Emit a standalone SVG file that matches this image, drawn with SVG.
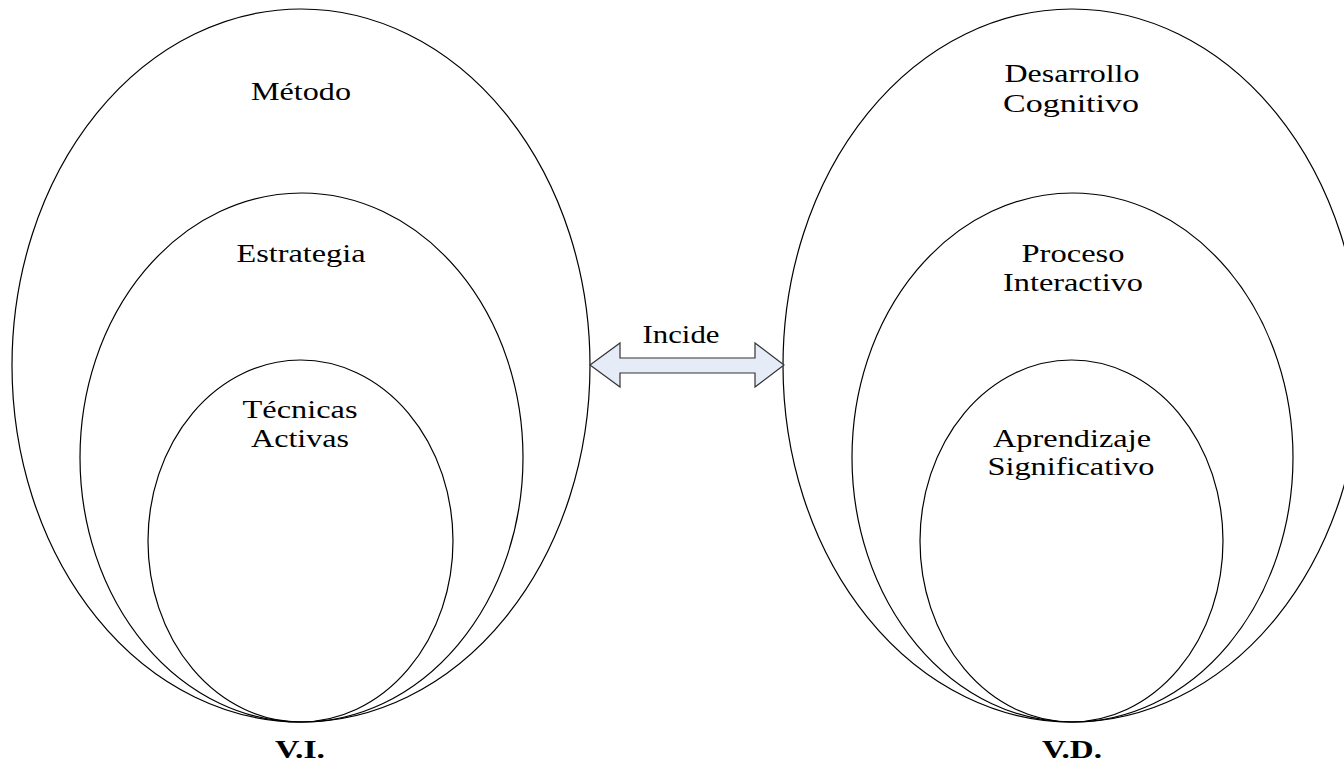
<svg xmlns="http://www.w3.org/2000/svg" width="1344" height="765" viewBox="0 0 1344 765">
<style>
.e{fill:none;stroke:#000;stroke-width:1.2}
.t{font-family:"Liberation Serif","Times New Roman",serif;font-size:25px;fill:#000;text-anchor:middle}
.b{font-weight:bold}
.arr{fill:#e6ecf7;stroke:#333;stroke-width:1.2;stroke-linejoin:miter}
</style>
<rect width="1344" height="765" fill="#fff"/>
<g id="metodo">
<ellipse class="e" cx="301" cy="365.5" rx="289" ry="356.5"/>
<text class="t" x="301" y="100" textLength="100" lengthAdjust="spacingAndGlyphs">Método</text>
</g>
<g id="estrategia">
<ellipse class="e" cx="301.5" cy="457.5" rx="221.5" ry="264.5"/>
<text class="t" x="301" y="262" textLength="129" lengthAdjust="spacingAndGlyphs">Estrategia</text>
</g>
<g id="tecnicas">
<ellipse class="e" cx="300.5" cy="541" rx="152.5" ry="181"/>
<text class="t" x="300" y="418" textLength="115" lengthAdjust="spacingAndGlyphs">Técnicas</text>
<text class="t" x="300" y="447" textLength="98" lengthAdjust="spacingAndGlyphs">Activas</text>
</g>
<g id="desarrollo">
<ellipse class="e" cx="1072" cy="365.5" rx="289" ry="356.5"/>
<text class="t" x="1072" y="82" textLength="135" lengthAdjust="spacingAndGlyphs">Desarrollo</text>
<text class="t" x="1071" y="112" textLength="136" lengthAdjust="spacingAndGlyphs">Cognitivo</text>
</g>
<g id="proceso">
<ellipse class="e" cx="1072.5" cy="457.5" rx="220.5" ry="264.5"/>
<text class="t" x="1073" y="262" textLength="103" lengthAdjust="spacingAndGlyphs">Proceso</text>
<text class="t" x="1073" y="291" textLength="140" lengthAdjust="spacingAndGlyphs">Interactivo</text>
</g>
<g id="aprendizaje">
<ellipse class="e" cx="1071.5" cy="541" rx="151.5" ry="181"/>
<text class="t" x="1072" y="447" textLength="158" lengthAdjust="spacingAndGlyphs">Aprendizaje</text>
<text class="t" x="1071" y="475" textLength="167" lengthAdjust="spacingAndGlyphs">Significativo</text>
</g>
<g id="connectors">
<polygon class="arr" points="590,365 620,343 620,358 755,358 755,343 784,365 755,387 755,373 620,373 620,387"/>
<text class="t" x="681" y="343" textLength="77" lengthAdjust="spacingAndGlyphs">Incide</text>
</g>
<g id="labels">
<text class="t b" x="300" y="758" textLength="50" lengthAdjust="spacingAndGlyphs">V.I.</text>
<text class="t b" x="1072" y="758" textLength="60" lengthAdjust="spacingAndGlyphs">V.D.</text>
</g>
</svg>
